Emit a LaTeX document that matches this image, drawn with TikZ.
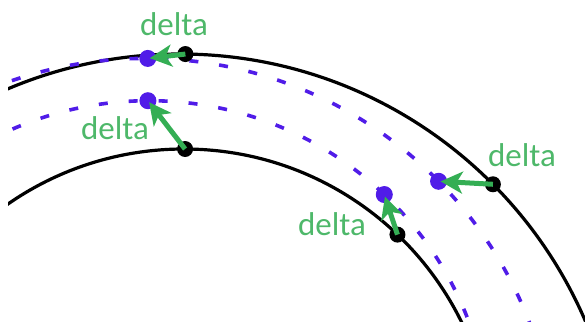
\documentclass[tikz,border=0pt]{standalone}
\usepackage{fontspec}
\setmainfont{Carlito}
\usetikzlibrary{arrows.meta, calc}
\definecolor{arrowgreen}{RGB}{52,174,84}
\definecolor{labelgreen}{RGB}{78,184,106}
\definecolor{dashblue}{RGB}{80,28,232}

\begin{document}
\begin{tikzpicture}[x=0.5pt, y=-0.5pt,
    boundary/.style={draw=black, line width=1.6pt},
    front/.style={draw=dashblue, line width=1.8pt, dash pattern=on 4.5pt off 10.5pt},
    bdot/.style={circle, fill=black, inner sep=0pt, minimum size=8pt},
    pdot/.style={circle, fill=dashblue, inner sep=0pt, minimum size=8.5pt},
    move/.style={-{Stealth[length=11pt, width=11pt, inset=3pt]}, draw=arrowgreen,
                 line width=2.5pt, shorten >=1pt},
    lbl/.style={text=labelgreen, font=\fontsize{16.5}{19}\selectfont, inner sep=0pt}]
    \useasboundingbox (0,0) rectangle (585,322);

    % Centres of the four arcs
    \coordinate (oc) at (180,495);
    \coordinate (ic) at (184,458);
    \coordinate (odc) at (145.6,469.2);
    \coordinate (idc) at (149.1,442.4);

    % Boundaries (solid) and moved fronts (dashed)
    \begin{scope}
        \clip (8,0) rectangle (585,322);
        \draw[boundary] (oc) circle[radius=441];
        \draw[boundary] (ic) circle[radius=309];
        \draw[front] (odc) circle[radius=410.8];
        \draw[front] (idc) circle[radius=341.7];
    \end{scope}

    % Points on the boundaries
    \node[bdot] (b1) at ($(oc)+(-89.3:441)$) {};
    \node[bdot] (b2) at ($(ic)+(-89.8:309)$) {};
    \node[bdot] (b3) at ($(oc)+(-44.8:441)$) {};
    \node[bdot] (b4) at ($(ic)+(-46.3:309)$) {};

    % Displaced points on the fronts
    \node[pdot] (p1) at ($(odc)+(-89.7:410.8)$) {};
    \node[pdot] (p2) at ($(idc)+(-90.2:341.7)$) {};
    \node[pdot] (p3) at ($(odc)+(-44.5:410.8)$) {};
    \node[pdot] (p4) at ($(idc)+(-46.5:341.7)$) {};

    % Displacements
    \foreach \i in {1,...,4} {
        \draw[move] (b\i.center) -- (p\i.center);
    }

    % Labels
    \node[lbl] (l1) at (174,24) {delta};
    \node[lbl] (l2) at (115,128) {delta};
    \node[lbl] (l3) at (522,155) {delta};
    \node[lbl] (l4) at (332,224) {delta};
\end{tikzpicture}
\end{document}
